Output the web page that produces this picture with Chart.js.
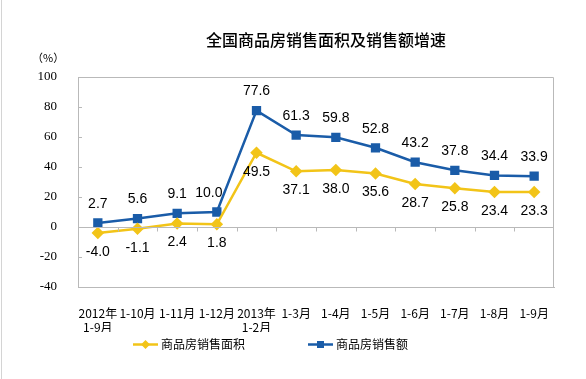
<!DOCTYPE html>
<html>
<head>
<meta charset="utf-8">
<script src="https://cdn.jsdelivr.net/npm/chart.js@4/dist/chart.umd.min.js"></script>
<style>
  html, body { margin: 0; padding: 0; background: #fff; }
</style>
</head>
<body>
<canvas id="lineChart" width="586" height="379"></canvas>
<script>
// datos
var periodos = [["2012年", "1-9月"], "1-10月", "1-11月", "1-12月", ["2013年", "1-2月"], "1-3月", "1-4月", "1-5月", "1-6月", "1-7月", "1-8月", "1-9月"];
var areaVenta  = [-4.0, -1.1, 2.4, 1.8, 49.5, 37.1, 38.0, 35.6, 28.7, 25.8, 23.4, 23.3];
var montoVenta = [2.7, 5.6, 9.1, 10.0, 77.6, 61.3, 59.8, 52.8, 43.2, 37.8, 34.4, 33.9];
var nombres = ["商品房销售面积", "商品房销售额"];
var yMin = -40, yMax = 100, yPaso = 20;
var titulo = "全国商品房销售面积及销售额增速";
var unidad = "（%）";

var amarillo = "#f2c418";
var azul     = "#1a5ca8";
var gris     = "#b9b9b9";
var fuenteCJK = "'Noto Sans CJK SC', sans-serif";

var extras = {
    id: "extras",
    afterDraw: function (chart) {
        var ctx = chart.ctx;
        var area = chart.chartArea;
        var y = chart.scales.y;
        ctx.save();

        // borde izquierdo de la imagen
        ctx.strokeStyle = "#d4d4d4";
        ctx.lineWidth = 1;
        ctx.beginPath();
        ctx.moveTo(1.5, 0);
        ctx.lineTo(1.5, chart.height);
        ctx.stroke();

        // marco del area
        ctx.strokeStyle = gris;
        ctx.beginPath();
        ctx.moveTo(area.left, area.top + 0.5);
        ctx.lineTo(area.right - 0.5, area.top + 0.5);
        ctx.lineTo(area.right - 0.5, area.bottom);
        ctx.stroke();

        // linea del cero con marcas
        var y0 = Math.round(y.getPixelForValue(0)) + 0.5;
        ctx.beginPath();
        ctx.moveTo(area.left, y0);
        ctx.lineTo(area.right, y0);
        var paso = (area.right - area.left) / periodos.length;
        for (var i = 1; i < periodos.length; i++) {
            var px = Math.round(area.left + paso * i) + 0.5;
            ctx.moveTo(px, y0);
            ctx.lineTo(px, y0 + 4);
        }
        // marcas del eje y hacia adentro
        y.ticks.forEach(function (t) {
            var py = Math.round(y.getPixelForValue(t.value)) + 0.5;
            ctx.moveTo(area.left, py);
            ctx.lineTo(area.left + 4, py);
        });
        ctx.stroke();

        // etiquetas de datos
        ctx.font = "14px 'Liberation Sans', Arial, sans-serif";
        ctx.fillStyle = "#000";
        ctx.textAlign = "center";
        ctx.textBaseline = "middle";
        chart.data.datasets.forEach(function (ds, di) {
            var meta = chart.getDatasetMeta(di);
            meta.data.forEach(function (pt, i) {
                var dy = di === 1 ? -19 : 19;
                var dx = (di === 1 && i === 3) ? -8 : 0;
                ctx.fillText(ds.data[i].toFixed(1), pt.x + dx, pt.y + dy);
            });
        });

        // titulo
        ctx.font = "500 16px " + fuenteCJK;
        ctx.fillText(titulo, 326, 40);

        // unidad
        ctx.font = "11px " + fuenteCJK;
        ctx.textAlign = "left";
        ctx.fillText(unidad, 32, 58);

        // leyenda
        var inicio = [133, 308];
        ctx.font = "12px " + fuenteCJK;
        chart.data.datasets.forEach(function (ds, di) {
            var lx = inicio[di], ly = 344.5;
            ctx.strokeStyle = ds.borderColor;
            ctx.lineWidth = 2.5;
            ctx.beginPath();
            ctx.moveTo(lx, ly);
            ctx.lineTo(lx + 25, ly);
            ctx.stroke();
            ctx.fillStyle = ds.borderColor;
            ctx.beginPath();
            if (ds.pointStyle === "rect") {
                ctx.rect(lx + 9, ly - 3.5, 7, 7);
            } else {
                ctx.moveTo(lx + 12.5, ly - 4.5);
                ctx.lineTo(lx + 17, ly);
                ctx.lineTo(lx + 12.5, ly + 4.5);
                ctx.lineTo(lx + 8, ly);
                ctx.closePath();
            }
            ctx.fill();
            ctx.fillStyle = "#000";
            ctx.fillText(ds.label, lx + 28, ly);
        });

        ctx.restore();
    }
};

var datos = {
    labels: periodos,
    datasets: [{
        label: nombres[0],
        data: areaVenta,
        borderColor: amarillo,
        backgroundColor: amarillo,
        borderWidth: 2.5,
        pointStyle: "rectRot",
        pointRadius: 4.5,
        pointHoverRadius: 4.5,
        tension: 0
    }, {
        label: nombres[1],
        data: montoVenta,
        borderColor: azul,
        backgroundColor: azul,
        borderWidth: 2.5,
        pointStyle: "rect",
        pointRadius: 4.8,
        pointHoverRadius: 4.8,
        tension: 0
    }]
};

var opciones = {
    responsive: false,
    animation: false,
    devicePixelRatio: 1,
    layout: { padding: { top: 77, right: 32, bottom: 47, left: 0 } },
    plugins: {
        legend: { display: false },
        title: { display: false },
        tooltip: { enabled: false }
    },
    scales: {
        x: {
            offset: true,
            grid: { display: false },
            border: { display: true, color: gris, width: 1 },
            ticks: {
                autoSkip: false,
                maxRotation: 0,
                padding: 11,
                color: "#000",
                font: { family: fuenteCJK, size: 12, lineHeight: 1.17 }
            },
            afterFit: function (s) { s.height = 45; }
        },
        y: {
            min: yMin,
            max: yMax,
            grid: { display: false },
            border: { display: true, color: gris, width: 1 },
            ticks: {
                stepSize: yPaso,
                padding: 13,
                color: "#000",
                font: { family: "'Liberation Serif', serif", size: 13 }
            },
            afterFit: function (s) { s.width = 78; }
        }
    }
};

var ctx = document.getElementById("lineChart").getContext("2d");
new Chart(ctx, { type: "line", data: datos, options: opciones, plugins: [extras] });
</script>
</body>
</html>
